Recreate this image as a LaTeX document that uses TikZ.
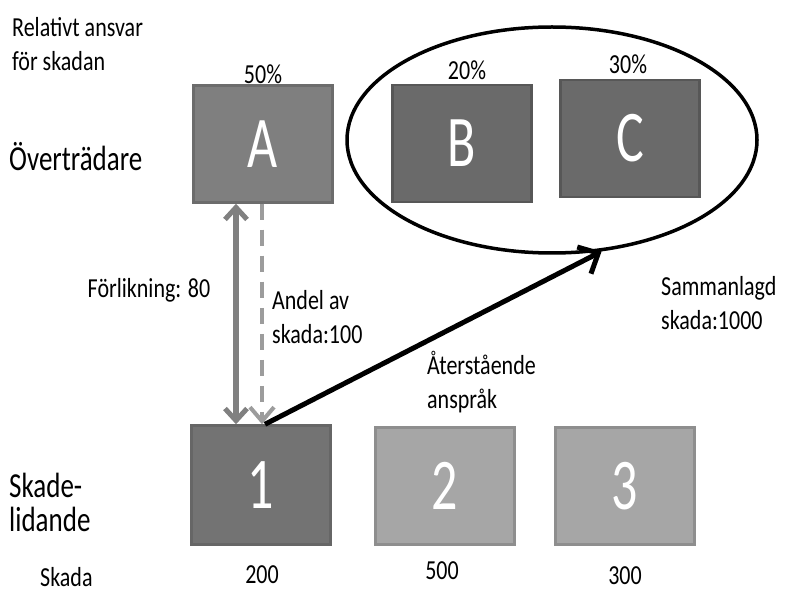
\documentclass[tikz,border=0pt]{standalone}
\usepackage{fontspec}
\setmainfont{Carlito}
\usetikzlibrary{arrows.meta,shapes.geometric}
\definecolor{boxA}{HTML}{7F7F7F}
\definecolor{boxAline}{HTML}{6C6C6C}
\definecolor{boxDark}{HTML}{6A6A6A}
\definecolor{boxDarkline}{HTML}{575757}
\definecolor{boxOne}{HTML}{737373}
\definecolor{boxOneline}{HTML}{666666}
\definecolor{boxLight}{HTML}{A6A6A6}
\definecolor{boxLightline}{HTML}{8E8E8E}
\definecolor{arrGrey}{HTML}{808080}
\definecolor{arrDash}{HTML}{9C9C9C}
\newcommand{\mltext}[1]{\scalebox{1}[1.25]{\begin{tabular}{@{}l@{}}#1\end{tabular}}}
\newcommand{\bigletter}[1]{\scalebox{1}[1.4]{#1}}
\begin{document}
\begin{tikzpicture}[x=1pt,y=-1pt,
  party/.style={rectangle, draw, line width=2.5pt, inner sep=0pt,
    minimum width=139pt, minimum height=117pt, text=white,
    font=\fontsize{52}{60}\selectfont},
  small/.style={inner sep=0pt, font=\fontsize{22}{27}\selectfont},
  big/.style={inner sep=0pt, font=\fontsize{27}{25}\selectfont},
  settle/.style={draw=arrGrey, line width=6pt,
    {Straight Barb[length=12pt,width=22pt,line width=5pt]}-{Straight Barb[length=12pt,width=22pt,line width=5pt]}},
  share/.style={draw=arrDash, line width=4pt, dash pattern=on 16pt off 10pt,
    -{Straight Barb[length=14pt,width=24pt,line width=4pt]}},
  remain/.style={draw=black, line width=5pt,
    -{Straight Barb[length=16pt,width=30pt,line width=5pt]}}]
\useasboundingbox (0,0) rectangle (786,593);
\fill[white] (0,0) rectangle (786,593);

% group ellipse
\node[ellipse, draw, line width=3.5pt, inner sep=0pt,
  minimum width=410pt, minimum height=226pt] (grp) at (552,140) {};

% offenders
\node[party, fill=boxA, draw=boxAline] (A) at (263,144) {\bigletter{A}};
\node[party, fill=boxDark, draw=boxDarkline] (B) at (462,143.5) {\bigletter{B}};
\node[party, fill=boxDark, draw=boxDarkline] (C) at (630,138.5) {\bigletter{C}};

% injured parties
\node[party, fill=boxOne, draw=boxOneline, minimum height=119pt] (n1) at (261,485) {\bigletter{1}};
\node[party, fill=boxLight, draw=boxLightline] (n2) at (445,486) {\bigletter{2}};
\node[party, fill=boxLight, draw=boxLightline] (n3) at (625,486) {\bigletter{3}};

% percentages
\node[small] (pA) at (263,74) {\scalebox{1}[1.25]{50\%}};
\node[small] (pB) at (467,70) {\scalebox{1}[1.25]{20\%}};
\node[small] (pC) at (628,64) {\scalebox{1}[1.25]{30\%}};

% damages
\node[small] (d1) at (262,575) {\scalebox{1}[1.25]{200}};
\node[small] (d2) at (442,571) {\scalebox{1}[1.25]{500}};
\node[small] (d3) at (625,576) {\scalebox{1}[1.25]{300}};

% row labels
\node[small, anchor=west] (rel) at (12,47) {\mltext{Relativt ansvar\\för skadan}};
\node[big, anchor=west] (ovr) at (9,157) {\scalebox{1}[1.3]{Överträdare}};
\node[big, anchor=west] (skl) at (9,507) {\scalebox{1}[1.3]{\begin{tabular}{@{}l@{}}Skade-\\lidande\end{tabular}}};
\node[small, anchor=west] (skd) at (40,577) {\scalebox{1}[1.25]{Skada}};

% arrows
\draw[settle] (A.south -| 236,0) -- (n1.north -| 236,0);
\draw[share] (A.south -| 262,0) -- (n1.north -| 262,0);
\draw[remain] (n1.north -| 265,0) -- (grp.-66);

% arrow labels
\node[small] (frl) at (149,290) {\scalebox{1}[1.25]{Förlikning: 80}};
\node[small, anchor=west] (and) at (272,320) {\mltext{Andel av\\skada:100}};
\node[small, anchor=west] (ats) at (427,385) {\mltext{Återstående\\anspråk}};
\node[small, anchor=west] (sam) at (661,306) {\mltext{Sammanlagd\\skada:1000}};
\end{tikzpicture}
\end{document}
